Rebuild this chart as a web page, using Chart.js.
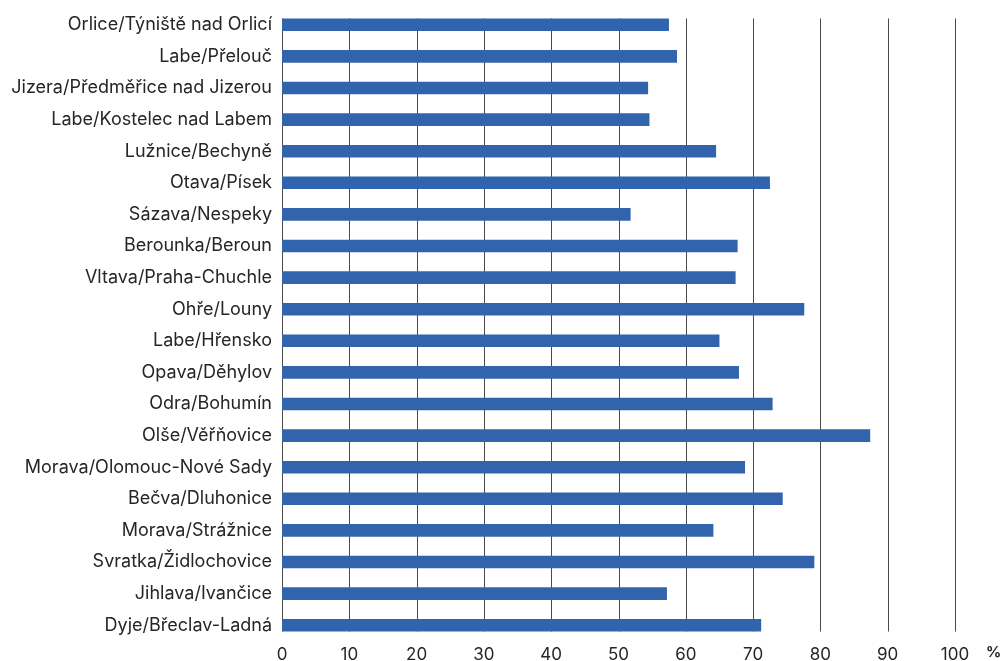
<!DOCTYPE html>
<html lang="cs">

<head>
    <meta charset="UTF-8">
    <title>Profily</title>
    <script src="https://cdn.jsdelivr.net/npm/chart.js"></script>
    <style>
        html, body {
            margin: 0;
            padding: 0;
            background: #ffffff;
        }

        .chart-box {
            width: 1001px;
            height: 661px;
        }
    </style>
</head>

<body>
    <div class="chart-box">
        <canvas id="profileChart"></canvas>
    </div>

    <script>
        const profiles = [
            'Orlice/Týniště nad Orlicí',
            'Labe/Přelouč',
            'Jizera/Předměřice nad Jizerou',
            'Labe/Kostelec nad Labem',
            'Lužnice/Bechyně',
            'Otava/Písek',
            'Sázava/Nespeky',
            'Berounka/Beroun',
            'Vltava/Praha-Chuchle',
            'Ohře/Louny',
            'Labe/Hřensko',
            'Opava/Děhylov',
            'Odra/Bohumín',
            'Olše/Věřňovice',
            'Morava/Olomouc-Nové Sady',
            'Bečva/Dluhonice',
            'Morava/Strážnice',
            'Svratka/Židlochovice',
            'Jihlava/Ivančice',
            'Dyje/Břeclav-Ladná'
        ];
        const percentValues = [57.5, 58.7, 54.4, 54.6, 64.5, 72.5, 51.8, 67.7, 67.4, 77.6,
            65.0, 67.9, 72.9, 87.4, 68.8, 74.4, 64.1, 79.1, 57.2, 71.2];
        const xTicks = [0, 10, 20, 30, 40, 50, 60, 70, 80, 90, 100];
        const unitLabel = '%';

        const textColor = '#262626';
        const fontFamily = 'Inter, Roboto, "Noto Sans", Arial, sans-serif';

        // vertical grid lines only between the first and last bar, like the original
        const gridPlugin = {
            id: 'barGrid',
            beforeDatasetsDraw(chart) {
                const bars = chart.getDatasetMeta(0).data;
                if (!bars.length) return;
                const first = bars[0];
                const last = bars[bars.length - 1];
                const top = first.y - first.height / 2;
                const bottom = last.y + last.height / 2;
                const xScale = chart.scales.x;
                const ctx = chart.ctx;
                ctx.save();
                ctx.strokeStyle = '#4a4a4a';
                ctx.lineWidth = 1;
                xScale.ticks.forEach(t => {
                    const x = Math.round(xScale.getPixelForValue(t.value)) + 0.5;
                    ctx.beginPath();
                    ctx.moveTo(x, top);
                    ctx.lineTo(x, bottom);
                    ctx.stroke();
                });
                ctx.restore();
            }
        };

        const unitPlugin = {
            id: 'unitLabel',
            afterDraw(chart) {
                const ctx = chart.ctx;
                ctx.save();
                ctx.fillStyle = textColor;
                ctx.font = 'bold 15px ' + fontFamily;
                ctx.textAlign = 'left';
                ctx.textBaseline = 'middle';
                ctx.fillText(unitLabel, chart.chartArea.right + 31, 652);
                ctx.restore();
            }
        };

        const ctx = document.getElementById('profileChart').getContext('2d');
        new Chart(ctx, {
            type: 'bar',
            data: {
                labels: profiles,
                datasets: [{
                    data: percentValues,
                    backgroundColor: '#3264ae',
                    borderWidth: 0,
                    categoryPercentage: 1.0,
                    barPercentage: 0.4
                }]
            },
            options: {
                indexAxis: 'y',
                responsive: true,
                maintainAspectRatio: false,
                animation: false,
                layout: {
                    padding: { top: 9, right: 46, bottom: 0, left: 0 }
                },
                scales: {
                    x: {
                        min: 0,
                        max: 100,
                        afterBuildTicks: scale => {
                            scale.ticks = xTicks.map(v => ({ value: v }));
                        },
                        afterFit: scale => {
                            scale.height = 20;
                            scale.paddingLeft = 0;
                            scale.paddingRight = 0;
                        },
                        grid: { display: false, drawTicks: false },
                        border: { display: false },
                        ticks: {
                            color: textColor,
                            padding: 5,
                            font: { family: fontFamily, size: 17, lineHeight: 1 }
                        }
                    },
                    y: {
                        offset: true,
                        afterFit: scale => {
                            scale.width = 282;
                            scale.paddingTop = 0;
                            scale.paddingBottom = 0;
                        },
                        grid: { display: false, drawTicks: false },
                        border: { display: false },
                        ticks: {
                            color: textColor,
                            padding: 10,
                            autoSkip: false,
                            font: { family: fontFamily, size: 18 }
                        }
                    }
                },
                plugins: {
                    legend: { display: false },
                    tooltip: { enabled: false }
                }
            },
            plugins: [gridPlugin, unitPlugin]
        });
    </script>
</body>

</html>
